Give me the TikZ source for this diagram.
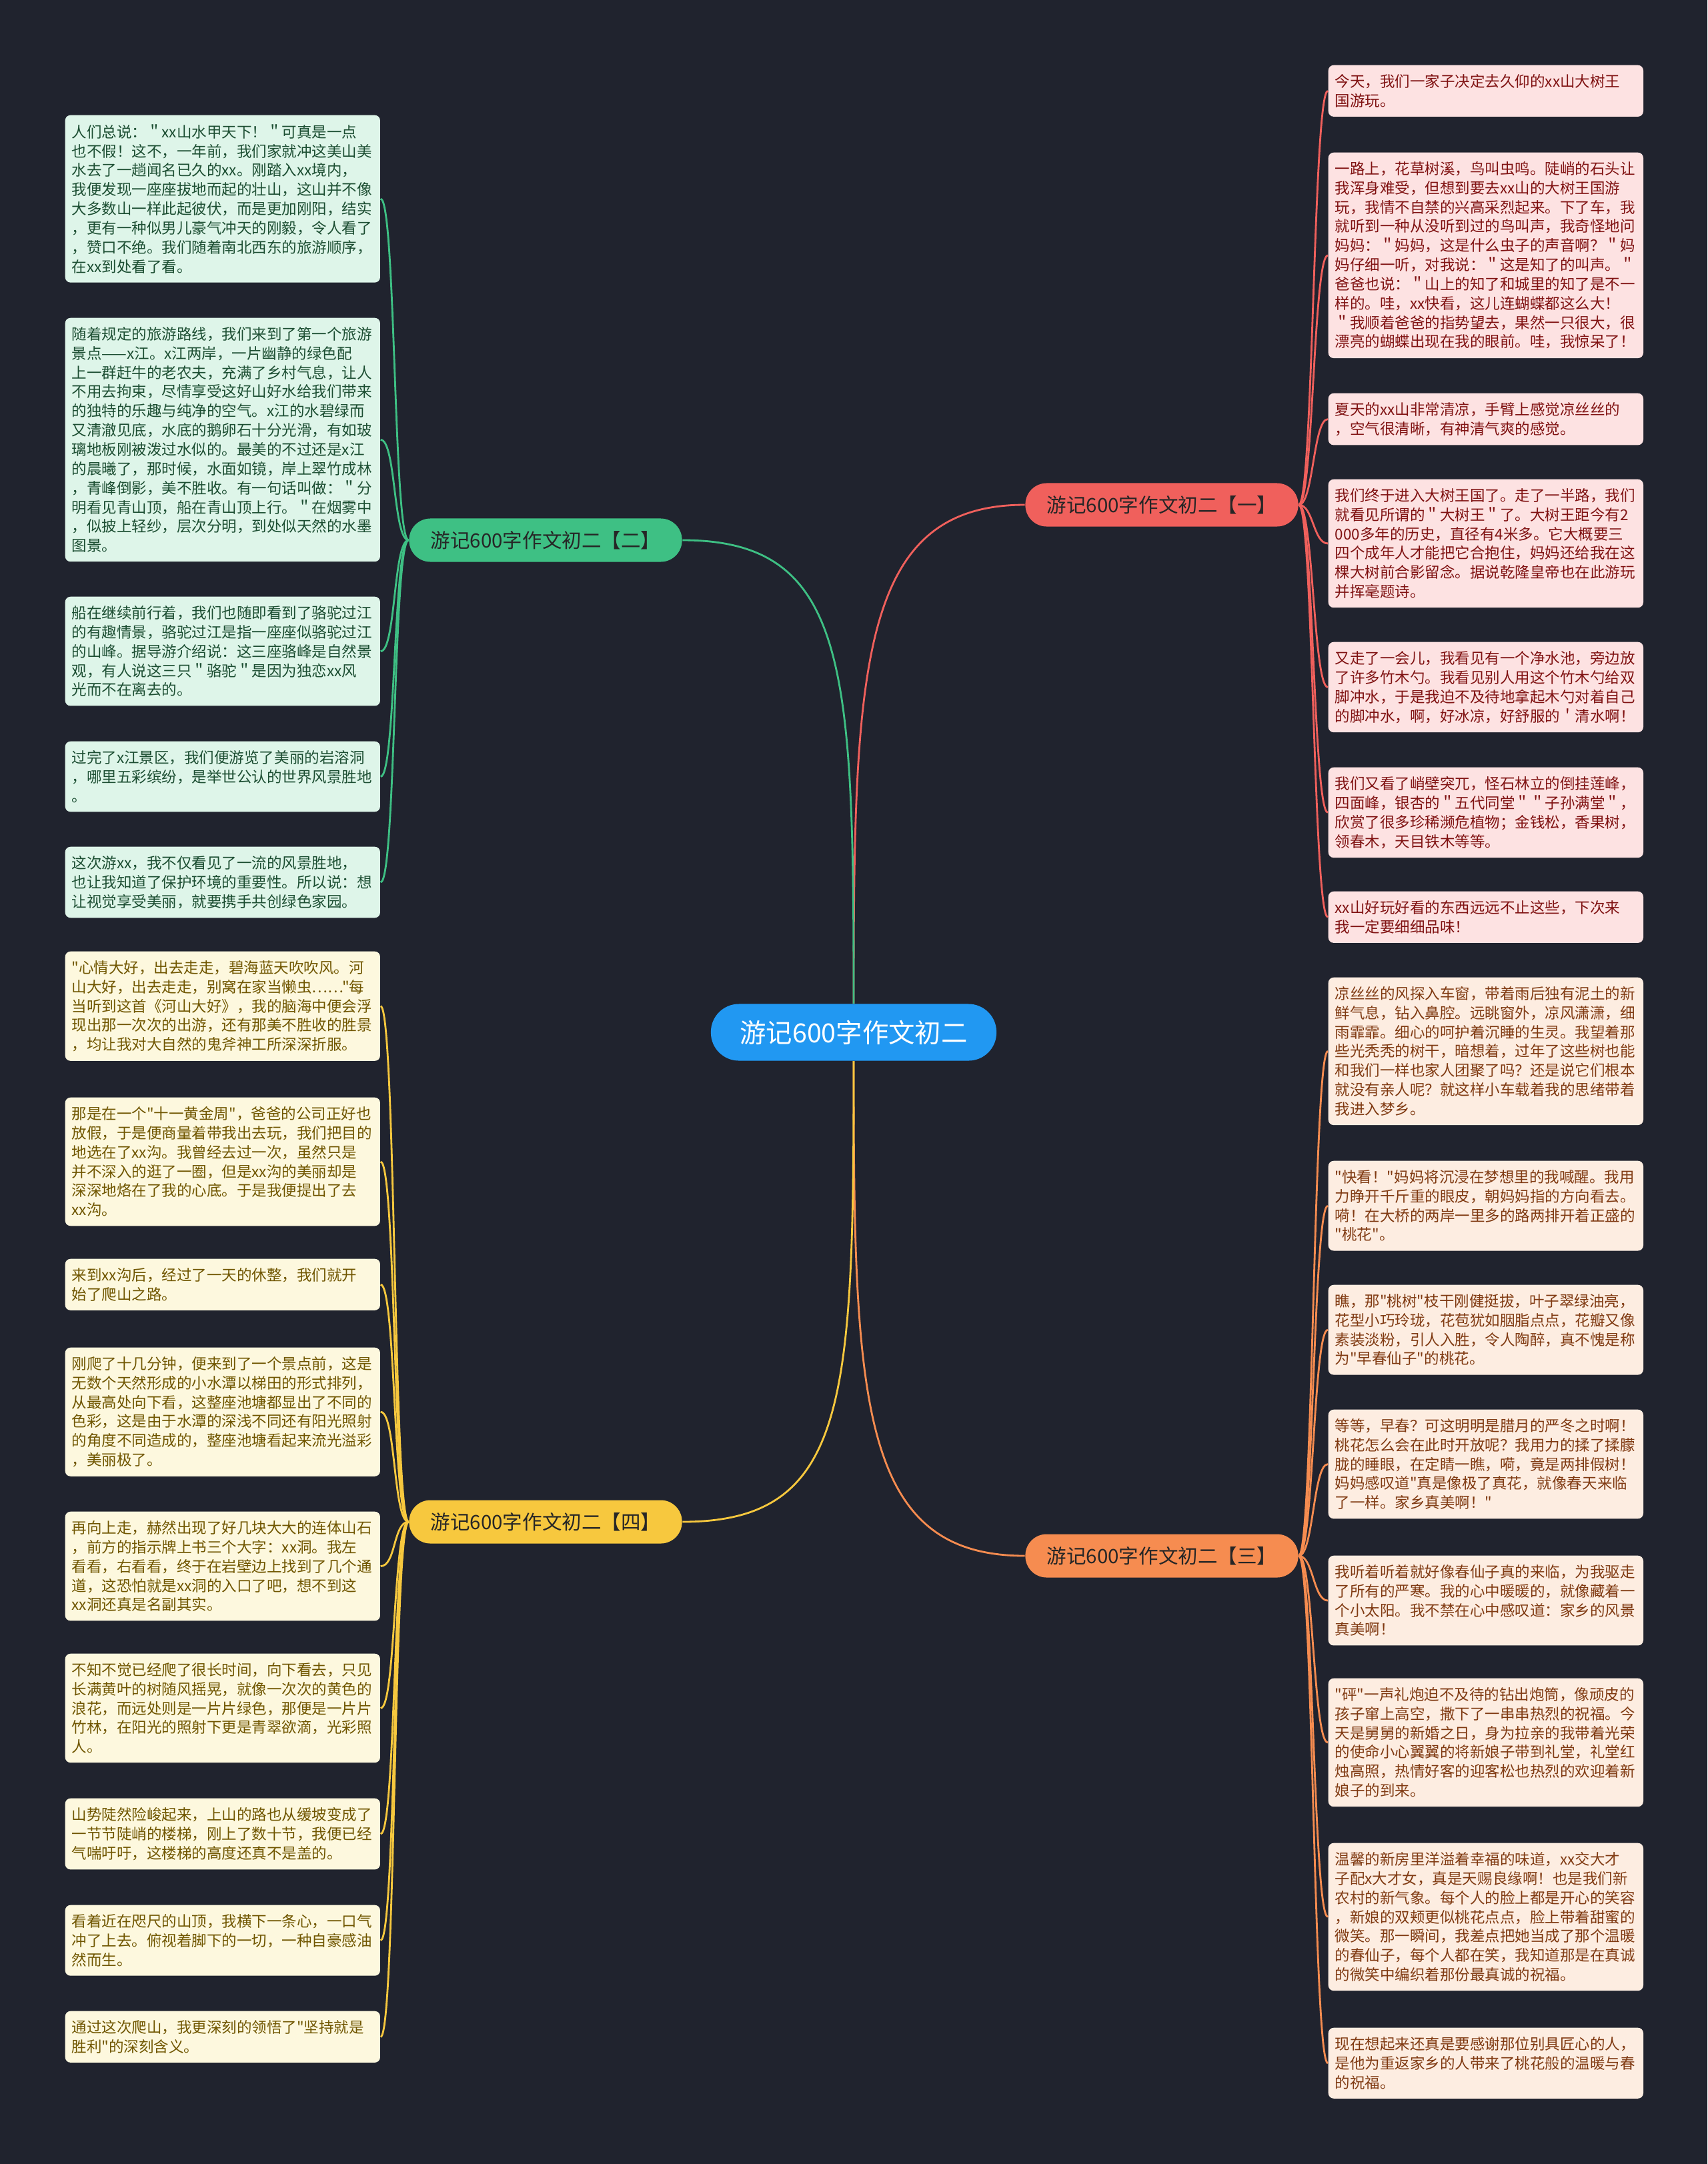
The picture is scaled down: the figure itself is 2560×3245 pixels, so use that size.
\documentclass[tikz,border=0pt]{standalone}
\usepackage{fontspec}
\newfontfamily\cjkfont{Noto Sans CJK SC}
\usetikzlibrary{positioning,calc}

\definecolor{bgcol}{RGB}{32,35,46}
\definecolor{rootcol}{RGB}{33,152,242}
\definecolor{cred}{RGB}{240,96,92}
\definecolor{cgreen}{RGB}{62,192,132}
\definecolor{corange}{RGB}{246,140,80}
\definecolor{cyellow}{RGB}{247,200,62}
\definecolor{fgreen}{RGB}{222,245,233}
\definecolor{tgreen}{RGB}{28,78,50}
\definecolor{fyellow}{RGB}{253,248,222}
\definecolor{tyellow}{RGB}{112,86,0}
\definecolor{fred}{RGB}{253,226,226}
\definecolor{tred}{RGB}{128,18,18}
\definecolor{forange}{RGB}{253,237,225}
\definecolor{torange}{RGB}{128,58,18}

\begin{document}
\begin{tikzpicture}[x=0.01cm,y=-0.01cm,
  leaf/.style={anchor=north west, rounded corners=0.08cm, inner xsep=0.1cm,
    inner ysep=3.9pt, text width=4.52cm, align=left,
    font=\cjkfont\fontsize{6.4pt}{8.2pt}\selectfont},
  gleaf/.style={leaf, fill=fgreen, text=tgreen},
  yleaf/.style={leaf, fill=fyellow, text=tyellow},
  rleaf/.style={leaf, fill=fred, text=tred},
  oleaf/.style={leaf, fill=forange, text=torange},
  branch/.style={minimum width=4.09cm, minimum height=0.65cm, inner sep=0pt,
    rounded corners=0.32cm, text=black!85, font=\cjkfont\fontsize{8.4pt}{10pt}\selectfont},
  link/.style={line width=0.8pt}]

  % background
  \fill[bgcol] (0,0) rectangle (2560,3245);

  % root and main branches
  \node[fill=rootcol, text=white, minimum width=4.28cm, minimum height=0.85cm,
    rounded corners=0.42cm, inner sep=0pt, font=\cjkfont\fontsize{11.2pt}{13pt}\selectfont]
    (root) at (1280,1548) {游记600字作文初二};
  \node[branch, fill=cred] (b1) at (1742,757) {游记600字作文初二【一】};
  \node[branch, fill=cgreen] (b2) at (818,810) {游记600字作文初二【二】};
  \node[branch, fill=corange] (b3) at (1742,2333) {游记600字作文初二【三】};
  \node[branch, fill=cyellow] (b4) at (818,2282) {游记600字作文初二【四】};

  \draw[link, cred] (root.north) .. controls +(0,-505) and +(-248,0) .. (b1.west);
  \draw[link, cgreen] (root.north) .. controls +(0,-505) and +(248,0) .. (b2.east);
  \draw[link, corange] (root.south) .. controls +(0,510) and +(-248,0) .. (b3.west);
  \draw[link, cyellow] (root.south) .. controls +(0,510) and +(248,0) .. (b4.east);

  % branch two (left, green)
  \node[gleaf] (l1) at (97,172) {人们总说：＂xx山水甲天下！＂可真是一点\\
也不假！这不，一年前，我们家就冲这美山美\\
水去了一趟闻名已久的xx。刚踏入xx境内，\\
我便发现一座座拔地而起的壮山，这山并不像\\
大多数山一样此起彼伏，而是更加刚阳，结实\\
，更有一种似男儿豪气冲天的刚毅，令人看了\\
，赞口不绝。我们随着南北西东的旅游顺序，\\
在xx到处看了看。};
  \node[gleaf] (l2) at (97,476) {随着规定的旅游路线，我们来到了第一个旅游\\
景点——x江。x江两岸，一片幽静的绿色配\\
上一群赶牛的老农夫，充满了乡村气息，让人\\
不用去拘束，尽情享受这好山好水给我们带来\\
的独特的乐趣与纯净的空气。x江的水碧绿而\\
又清澈见底，水底的鹅卵石十分光滑，有如玻\\
璃地板刚被泼过水似的。最美的不过还是x江\\
的晨曦了，那时候，水面如镜，岸上翠竹成林\\
，青峰倒影，美不胜收。有一句话叫做：＂分\\
明看见青山顶，船在青山顶上行。＂在烟雾中\\
，似披上轻纱，层次分明，到处似天然的水墨\\
图景。};
  \node[gleaf] (l3) at (97,894) {船在继续前行着，我们也随即看到了骆驼过江\\
的有趣情景，骆驼过江是指一座座似骆驼过江\\
的山峰。据导游介绍说：这三座骆峰是自然景\\
观，有人说这三只＂骆驼＂是因为独恋xx风\\
光而不在离去的。};
  \node[gleaf] (l4) at (97,1111) {过完了x江景区，我们便游览了美丽的岩溶洞\\
，哪里五彩缤纷，是举世公认的世界风景胜地\\
。};
  \node[gleaf] (l5) at (97,1269) {这次游xx，我不仅看见了一流的风景胜地，\\
也让我知道了保护环境的重要性。所以说：想\\
让视觉享受美丽，就要携手共创绿色家园。};

  \foreach \n in {l1,l2,l3,l4,l5}
    \draw[link, cgreen] (b2.west) .. controls +(-23,0) and +(23,0) .. (\n.east);

  % branch four (left, yellow)
  \node[yleaf] (l6) at (97,1426) {"心情大好，出去走走，碧海蓝天吹吹风。河\\
山大好，出去走走，别窝在家当懒虫……"每\\
当听到这首《河山大好》，我的脑海中便会浮\\
现出那一次次的出游，还有那美不胜收的胜景\\
，均让我对大自然的鬼斧神工所深深折服。};
  \node[yleaf] (l7) at (97,1645) {那是在一个"十一黄金周"，爸爸的公司正好也\\
放假，于是便商量着带我出去玩，我们把目的\\
地选在了xx沟。我曾经去过一次，虽然只是\\
并不深入的逛了一圈，但是xx沟的美丽却是\\
深深地烙在了我的心底。于是我便提出了去\\
xx沟。};
  \node[yleaf] (l8) at (97,1887) {来到xx沟后，经过了一天的休整，我们就开\\
始了爬山之路。};
  \node[yleaf] (l9) at (97,2020) {刚爬了十几分钟，便来到了一个景点前，这是\\
无数个天然形成的小水潭以梯田的形式排列，\\
从最高处向下看，这整座池塘都显出了不同的\\
色彩，这是由于水潭的深浅不同还有阳光照射\\
的角度不同造成的，整座池塘看起来流光溢彩\\
，美丽极了。};
  \node[yleaf] (l10) at (97,2266) {再向上走，赫然出现了好几块大大的连体山石\\
，前方的指示牌上书三个大字：xx洞。我左\\
看看，右看看，终于在岩壁边上找到了几个通\\
道，这恐怕就是xx洞的入口了吧，想不到这\\
xx洞还真是名副其实。};
  \node[yleaf] (l11) at (97,2479) {不知不觉已经爬了很长时间，向下看去，只见\\
长满黄叶的树随风摇晃，就像一次次的黄色的\\
浪花，而远处则是一片片绿色，那便是一片片\\
竹林，在阳光的照射下更是青翠欲滴，光彩照\\
人。};
  \node[yleaf] (l12) at (97,2696) {山势陡然险峻起来，上山的路也从缓坡变成了\\
一节节陡峭的楼梯，刚上了数十节，我便已经\\
气喘吁吁，这楼梯的高度还真不是盖的。};
  \node[yleaf] (l13) at (97,2856) {看着近在咫尺的山顶，我横下一条心，一口气\\
冲了上去。俯视着脚下的一切，一种自豪感油\\
然而生。};
  \node[yleaf] (l14) at (97,3015) {通过这次爬山，我更深刻的领悟了"坚持就是\\
胜利"的深刻含义。};

  \foreach \n in {l6,l7,l8,l9,l10,l11,l12,l13,l14}
    \draw[link, cyellow] (b4.west) .. controls +(-23,0) and +(23,0) .. (\n.east);

  % branch one (right, red)
  \node[rleaf] (r1) at (1991,97) {今天，我们一家子决定去久仰的xx山大树王\\
国游玩。};
  \node[rleaf] (r2) at (1991,228) {一路上，花草树溪，鸟叫虫鸣。陡峭的石头让\\
我浑身难受，但想到要去xx山的大树王国游\\
玩，我情不自禁的兴高采烈起来。下了车，我\\
就听到一种从没听到过的鸟叫声，我奇怪地问\\
妈妈：＂妈妈，这是什么虫子的声音啊？＂妈\\
妈仔细一听，对我说：＂这是知了的叫声。＂\\
爸爸也说：＂山上的知了和城里的知了是不一\\
样的。哇，xx快看，这儿连蝴蝶都这么大！\\
＂我顺着爸爸的指势望去，果然一只很大，很\\
漂亮的蝴蝶出现在我的眼前。哇，我惊呆了！};
  \node[rleaf] (r3) at (1991,589) {夏天的xx山非常清凉，手臂上感觉凉丝丝的\\
，空气很清晰，有神清气爽的感觉。};
  \node[rleaf] (r4) at (1991,718) {我们终于进入大树王国了。走了一半路，我们\\
就看见所谓的＂大树王＂了。大树王距今有2\\
000多年的历史，直径有4米多。它大概要三\\
四个成年人才能把它合抱住，妈妈还给我在这\\
棵大树前合影留念。据说乾隆皇帝也在此游玩\\
并挥毫题诗。};
  \node[rleaf] (r5) at (1991,962) {又走了一会儿，我看见有一个净水池，旁边放\\
了许多竹木勺。我看见别人用这个竹木勺给双\\
脚冲水，于是我迫不及待地拿起木勺对着自己\\
的脚冲水，啊，好冰凉，好舒服的＇清水啊！};
  \node[rleaf] (r6) at (1991,1150) {我们又看了峭壁突兀，怪石林立的倒挂莲峰，\\
四面峰，银杏的＂五代同堂＂＂子孙满堂＂，\\
欣赏了很多珍稀濒危植物；金钱松，香果树，\\
领春木，天目铁木等等。};
  \node[rleaf] (r7) at (1991,1336) {xx山好玩好看的东西远远不止这些，下次来\\
我一定要细细品味！};

  \foreach \n in {r1,r2,r3,r4,r5,r6,r7}
    \draw[link, cred] (b1.east) .. controls +(22,0) and +(-22,0) .. (\n.west);

  % branch three (right, orange)
  \node[oleaf] (r8) at (1991,1465) {凉丝丝的风探入车窗，带着雨后独有泥土的新\\
鲜气息，钻入鼻腔。远眺窗外，凉风潇潇，细\\
雨霏霏。细心的呵护着沉睡的生灵。我望着那\\
些光秃秃的树干，暗想着，过年了这些树也能\\
和我们一样也家人团聚了吗？还是说它们根本\\
就没有亲人呢？就这样小车载着我的思绪带着\\
我进入梦乡。};
  \node[oleaf] (r9) at (1991,1740) {"快看！"妈妈将沉浸在梦想里的我喊醒。我用\\
力睁开千斤重的眼皮，朝妈妈指的方向看去。\\
嗬！在大桥的两岸一里多的路两排开着正盛的\\
"桃花"。};
  \node[oleaf] (r10) at (1991,1926) {瞧，那"桃树"枝干刚健挺拔，叶子翠绿油亮，\\
花型小巧玲珑，花苞犹如胭脂点点，花瓣又像\\
素装淡粉，引人入胜，令人陶醉，真不愧是称\\
为"早春仙子"的桃花。};
  \node[oleaf] (r11) at (1991,2113) {等等，早春？可这明明是腊月的严冬之时啊！\\
桃花怎么会在此时开放呢？我用力的揉了揉朦\\
胧的睡眼，在定睛一瞧，嗬，竟是两排假树！\\
妈妈感叹道"真是像极了真花，就像春天来临\\
了一样。家乡真美啊！"};
  \node[oleaf] (r12) at (1991,2332) {我听着听着就好像春仙子真的来临，为我驱走\\
了所有的严寒。我的心中暖暖的，就像藏着一\\
个小太阳。我不禁在心中感叹道：家乡的风景\\
真美啊！};
  \node[oleaf] (r13) at (1991,2516) {"砰"一声礼炮迫不及待的钻出炮筒，像顽皮的\\
孩子窜上高空，撒下了一串串热烈的祝福。今\\
天是舅舅的新婚之日，身为拉亲的我带着光荣\\
的使命小心翼翼的将新娘子带到礼堂，礼堂红\\
烛高照，热情好客的迎客松也热烈的欢迎着新\\
娘子的到来。};
  \node[oleaf] (r14) at (1991,2763) {温馨的新房里洋溢着幸福的味道，xx交大才\\
子配x大才女，真是天赐良缘啊！也是我们新\\
农村的新气象。每个人的脸上都是开心的笑容\\
，新娘的双颊更似桃花点点，脸上带着甜蜜的\\
微笑。那一瞬间，我差点把她当成了那个温暖\\
的春仙子，每个人都在笑，我知道那是在真诚\\
的微笑中编织着那份最真诚的祝福。};
  \node[oleaf] (r15) at (1991,3040) {现在想起来还真是要感谢那位别具匠心的人，\\
是他为重返家乡的人带来了桃花般的温暖与春\\
的祝福。};

  \foreach \n in {r8,r9,r10,r11,r12,r13,r14,r15}
    \draw[link, corange] (b3.east) .. controls +(22,0) and +(-22,0) .. (\n.west);
\end{tikzpicture}
\end{document}
